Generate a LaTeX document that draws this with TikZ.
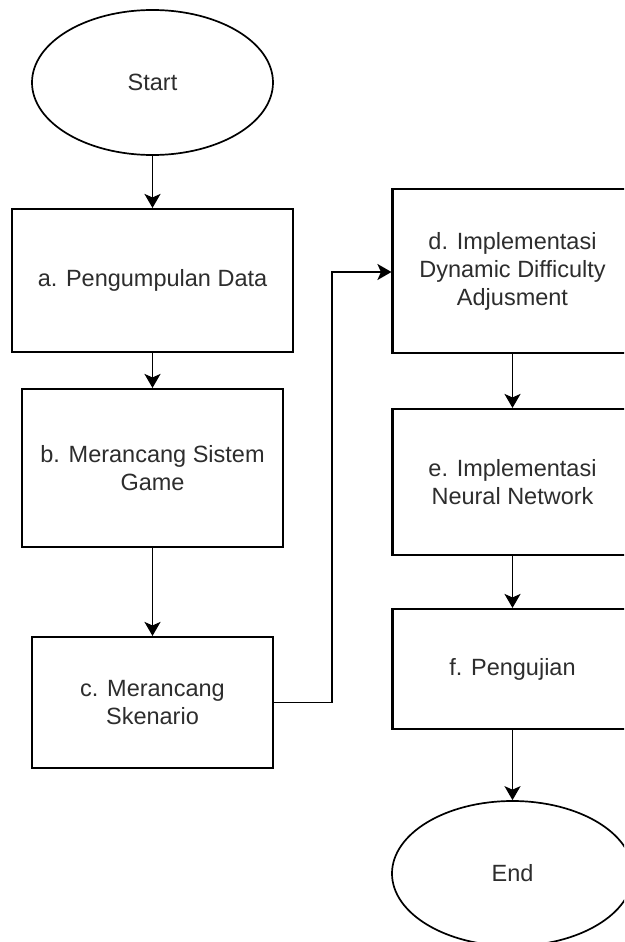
\documentclass[tikz,border=0pt]{standalone}
\usepackage{fontspec}
\setmainfont{Liberation Sans}
\usetikzlibrary{shapes.geometric,arrows.meta}
\definecolor{txt}{RGB}{45,45,45}
\begin{document}
\begin{tikzpicture}[x=1pt,y=-1pt,
  every node/.style={font=\fontsize{23.5}{28}\selectfont, text=txt, align=center, inner sep=0pt},
  procbox/.style={draw=black, line width=2.1pt, rectangle},
  term/.style={draw=black, line width=1.7pt, ellipse, minimum width=241pt, minimum height=145pt},
  flow/.style={draw=black, line width=1.9pt, -{Stealth[length=14pt,width=16pt,inset=3.5pt]}}]
\useasboundingbox (0,0) rectangle (624,942);
\clip (0,0) rectangle (624,942);
\fill[white] (0,0) rectangle (624,942);
\node[term] (start) at (152.5,82.5) {Start};
\node[procbox, minimum width=281pt, minimum height=143pt] (a) at (152.5,280.5) {a. Pengumpulan Data};
\node[procbox, minimum width=261pt, minimum height=158pt] (b) at (152.5,468) {b. Merancang Sistem\\Game};
\node[procbox, minimum width=241pt, minimum height=131pt] (c) at (152.5,702.5) {c. Merancang\\Skenario};
\node[procbox, minimum width=240pt, minimum height=164pt] (d) at (512.5,271) {d. Implementasi\\Dynamic Difficulty\\Adjusment};
\node[procbox, minimum width=240pt, minimum height=146pt] (e) at (512.5,482) {e. Implementasi\\Neural Network};
\node[procbox, minimum width=240pt, minimum height=120pt] (f) at (512.5,669) {f. Pengujian};
\node[term] (end) at (512.5,873.5) {End};
\coordinate (k1) at (332,702.5);
\coordinate (k2) at (332,272);
\draw[flow] (start) -- (a);
\draw[flow] (a) -- (b);
\draw[flow] (b) -- (c);
\draw[flow] (c.east) -- (k1) -- (k2) -- (d.west |- k2);
\draw[flow] (d) -- (e);
\draw[flow] (e) -- (f);
\draw[flow] (f) -- (end);
\end{tikzpicture}
\end{document}
